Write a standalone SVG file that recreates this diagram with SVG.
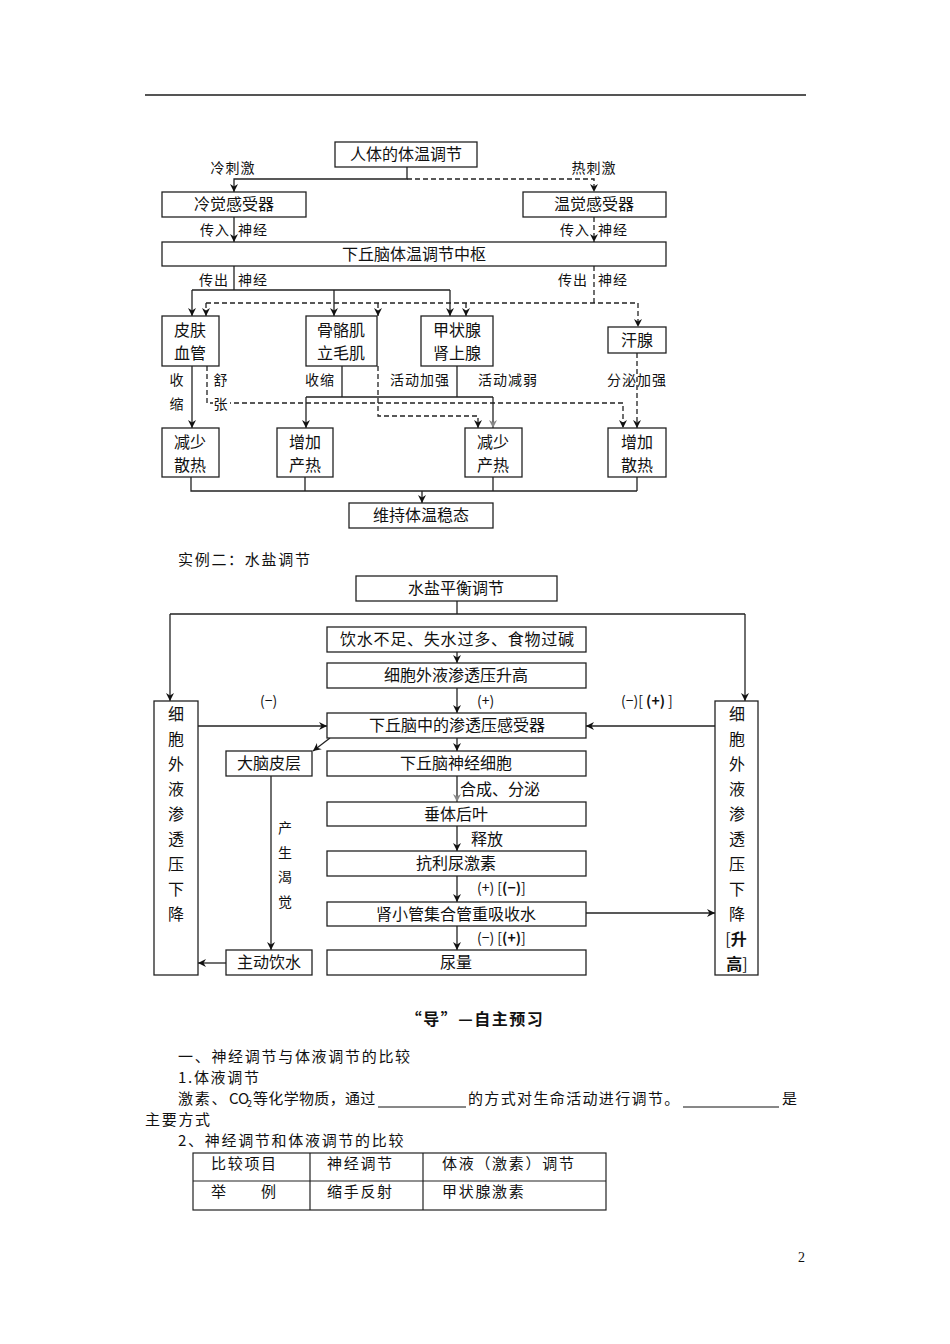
<svg xmlns="http://www.w3.org/2000/svg" width="950" height="1344" viewBox="0 0 950 1344">
<style>
text{font-family:"Noto Sans CJK SC","Liberation Sans",sans-serif;fill:#111}
.bt{font-size:16px;text-anchor:middle}
.lb{font-size:14px;letter-spacing:1px}
.lc{text-anchor:middle}
.le{text-anchor:end}
.box{fill:#fff;stroke:#222;stroke-width:1.3}
.s{fill:none;stroke:#222;stroke-width:1.3}
.d{fill:none;stroke:#222;stroke-width:1.3;stroke-dasharray:5,3}
.a{marker-end:url(#ah)}
.ag{marker-end:url(#ahg)}
.body{font-size:15px;letter-spacing:1.7px}
.b{font-weight:bold}
</style>
<defs>
<marker id="ah" markerWidth="9" markerHeight="9" refX="8" refY="4.5" orient="auto" markerUnits="userSpaceOnUse">
<path d="M0,0.5 L8,4.5 L0,8.5 L2.5,4.5 z" fill="#111"/>
</marker>
<marker id="ahg" markerWidth="9" markerHeight="9" refX="8" refY="4.5" orient="auto" markerUnits="userSpaceOnUse">
<path d="M0,0.5 L8,4.5 L0,8.5 L2.5,4.5 z" fill="#888"/>
</marker>
</defs>
<rect width="950" height="1344" fill="#fff"/>
<line x1="145" y1="95" x2="806" y2="95" stroke="#555" stroke-width="2"/>

<!-- ===== Diagram 1 connectors ===== -->
<g id="connectors1">
<path class="s a" d="M407,167 V179 H234 V192"/>
<path class="d a" d="M407,179 H594 V192"/>
<path class="s a" d="M234,217 V242"/>
<path class="d a" d="M594,217 V242"/>
<path class="s" d="M234,266 V290 M192,290 H450"/>
<path class="s a" d="M192,290 V316"/>
<path class="s a" d="M334,290 V316"/>
<path class="s a" d="M450,290 V316"/>
<path class="d" d="M594,266 V303 M206,303 H638"/>
<path class="d a" d="M206,303 V316"/>
<path class="d a" d="M378,303 V316"/>
<path class="d a" d="M466,303 V316"/>
<path class="d a" d="M638,303 V327"/>
<path class="s a" d="M192,366 V428"/>
<path class="d a" d="M207,366 V403 H623 V428"/>
<path class="s" d="M342,366 V397 M457,366 V397 M306,397 H493"/>
<path class="s a" d="M306,397 V428"/>
<path class="s ag" d="M493,397 V428" stroke="#777"/>
<path class="d a" d="M378,366 V416 H478 V428"/>
<path class="d a" d="M637,353 V428"/>
<path class="s" d="M191,477 V491 H637 M305,477 V491 M493,477 V491 M637,477 V491"/>
<path class="s a" d="M422,491 V503"/>
</g>

<g id="labels1" class="lb">
<text class="lc" x="233" y="173">冷刺激</text>
<text class="lc" x="594" y="173">热刺激</text>
<text class="le" x="230" y="235">传入</text>
<text x="238" y="235">神经</text>
<text class="le" x="590" y="235">传入</text>
<text x="598" y="235">神经</text>
<text class="le" x="229" y="285">传出</text>
<text x="238" y="285">神经</text>
<text class="le" x="588" y="285">传出</text>
<text x="598" y="285">神经</text>
<text class="lc" x="177" y="385">收</text>
<text class="lc" x="177" y="409">缩</text>
<text class="lc" x="221" y="385">舒</text>
<rect x="213" y="396" width="17" height="15" fill="#fff"/>
<text class="lc" x="221" y="409">张</text>
<text class="lc" x="320" y="385">收缩</text>
<text class="lc" x="420" y="385">活动加强</text>
<text class="lc" x="508" y="385">活动减弱</text>
<text class="lc" x="637" y="385">分泌加强</text>
</g>

<g id="n-tiwen"><rect class="box" x="335" y="142" width="142" height="25"/><text class="bt" x="406" y="160">人体的体温调节</text></g>
<g id="n-lengjue"><rect class="box" x="162" y="192" width="144" height="25"/><text class="bt" x="234" y="210">冷觉感受器</text></g>
<g id="n-wenjue"><rect class="box" x="523" y="192" width="143" height="25"/><text class="bt" x="594" y="210">温觉感受器</text></g>
<g id="n-zhongshu"><rect class="box" x="162" y="242" width="504" height="24"/><text class="bt" x="414" y="260">下丘脑体温调节中枢</text></g>
<g id="n-pifu"><rect class="box" x="162" y="316" width="57" height="50"/><text class="bt" x="190" y="336">皮肤</text><text class="bt" x="190" y="359">血管</text></g>
<g id="n-guge"><rect class="box" x="306" y="316" width="71" height="50"/><text class="bt" x="341" y="336">骨骼肌</text><text class="bt" x="341" y="359">立毛肌</text></g>
<g id="n-jiazhuang"><rect class="box" x="421" y="316" width="72" height="50"/><text class="bt" x="457" y="336">甲状腺</text><text class="bt" x="457" y="359">肾上腺</text></g>
<g id="n-hanxian"><rect class="box" x="608" y="327" width="58" height="26"/><text class="bt" x="637" y="346">汗腺</text></g>
<g id="n-jssr"><rect class="box" x="162" y="428" width="57" height="49"/><text class="bt" x="190" y="448">减少</text><text class="bt" x="190" y="471">散热</text></g>
<g id="n-zjcr"><rect class="box" x="277" y="428" width="56" height="49"/><text class="bt" x="305" y="448">增加</text><text class="bt" x="305" y="471">产热</text></g>
<g id="n-jscr"><rect class="box" x="465" y="428" width="57" height="49"/><text class="bt" x="493" y="448">减少</text><text class="bt" x="493" y="471">产热</text></g>
<g id="n-zjsr"><rect class="box" x="608" y="428" width="58" height="49"/><text class="bt" x="637" y="448">增加</text><text class="bt" x="637" y="471">散热</text></g>
<g id="n-weichi"><rect class="box" x="349" y="503" width="144" height="25"/><text class="bt" x="421" y="521">维持体温稳态</text></g>

<text class="body" x="178" y="565">实例二：水盐调节</text>

<!-- ===== Diagram 2 connectors ===== -->
<g id="connectors2">
<path class="s" d="M457,601 V614 M170,614 H745"/>
<path class="s a" d="M170,614 V701"/>
<path class="s a" d="M745,614 V701"/>
<path class="s a" d="M457,652 V663"/>
<path class="s a" d="M457,688 V713"/>
<path class="s a" d="M198,726 H327"/>
<path class="s a" d="M715,726 H586"/>
<path class="s a" d="M330,738 L313,751"/>
<path class="s a" d="M457,738 V751"/>
<path class="s ag" d="M457,776 V802" stroke="#777"/>
<path class="s a" d="M457,826 V851"/>
<path class="s a" d="M457,876 V902"/>
<path class="s a" d="M457,926 V950"/>
<path class="s a" d="M586,913 H715"/>
<path class="s a" d="M271,776 V950"/>
<path class="s a" d="M226,963 H198"/>
</g>

<g id="labels2" style="font-size:14px">
<text x="260" y="706">(−)</text>
<text x="477" y="706">(+)</text>
<text x="621" y="706">(−)[ <tspan class="b">(+)</tspan> ]</text>
<text x="460" y="795" style="font-size:16px">合成、分泌</text>
<text x="471" y="845" style="font-size:16px">释放</text>
<text x="477" y="893">(+)  [<tspan class="b">(−)</tspan>]</text>
<text x="477" y="943">(−)  [<tspan class="b">(+)</tspan>]</text>
<text x="285" y="833" class="lc">产</text>
<text x="285" y="858" class="lc">生</text>
<text x="285" y="882" class="lc">渴</text>
<text x="285" y="907" class="lc">觉</text>
</g>

<g id="n-shuiyan"><rect class="box" x="356" y="576" width="201" height="25"/><text class="bt" x="456" y="594">水盐平衡调节</text></g>
<g id="n-yinshui"><rect class="box" x="327" y="627" width="259" height="25"/><text class="bt" x="457" y="645" textLength="234">饮水不足、失水过多、食物过碱</text></g>
<g id="n-shenggao"><rect class="box" x="327" y="663" width="259" height="25"/><text class="bt" x="456" y="681">细胞外液渗透压升高</text></g>
<g id="n-ganshouqi"><rect class="box" x="327" y="713" width="259" height="25"/><text class="bt" x="457" y="731">下丘脑中的渗透压感受器</text></g>
<g id="n-danao"><rect class="box" x="226" y="751" width="86" height="25"/><text class="bt" x="269" y="769">大脑皮层</text></g>
<g id="n-shenjing"><rect class="box" x="327" y="751" width="259" height="25"/><text class="bt" x="456" y="769">下丘脑神经细胞</text></g>
<g id="n-chuiti"><rect class="box" x="327" y="802" width="259" height="24"/><text class="bt" x="456" y="820">垂体后叶</text></g>
<g id="n-kangli"><rect class="box" x="327" y="851" width="259" height="25"/><text class="bt" x="456" y="869">抗利尿激素</text></g>
<g id="n-chongxishou"><rect class="box" x="327" y="902" width="259" height="24"/><text class="bt" x="456" y="920">肾小管集合管重吸收水</text></g>
<g id="n-niaoliang"><rect class="box" x="327" y="950" width="259" height="25"/><text class="bt" x="456" y="968">尿量</text></g>
<g id="n-yinshui2"><rect class="box" x="226" y="950" width="86" height="25"/><text class="bt" x="269" y="968">主动饮水</text></g>
<g id="n-left"><rect class="box" x="154" y="701" width="44" height="274"/>
<text class="bt" x="176" y="720">细</text><text class="bt" x="176" y="745">胞</text><text class="bt" x="176" y="770">外</text><text class="bt" x="176" y="795">液</text><text class="bt" x="176" y="820">渗</text><text class="bt" x="176" y="845">透</text><text class="bt" x="176" y="870">压</text><text class="bt" x="176" y="895">下</text><text class="bt" x="176" y="920">降</text></g>
<g id="n-right"><rect class="box" x="715" y="701" width="43" height="274"/>
<text class="bt" x="737" y="720">细</text><text class="bt" x="737" y="745">胞</text><text class="bt" x="737" y="770">外</text><text class="bt" x="737" y="795">液</text><text class="bt" x="737" y="820">渗</text><text class="bt" x="737" y="845">透</text><text class="bt" x="737" y="870">压</text><text class="bt" x="737" y="895">下</text><text class="bt" x="737" y="920">降</text>
<text class="bt" x="736" y="945">[<tspan class="b">升</tspan></text><text class="bt" x="737" y="970"><tspan class="b">高</tspan>]</text></g>

<!-- ===== Text section ===== -->
<g id="text-section" class="body">
<text x="475" y="1025" class="b" text-anchor="middle" style="font-size:16px;letter-spacing:1.5px">“导”—自主预习</text>
<text x="178" y="1062">一、神经调节与体液调节的比较</text>
<text x="178" y="1083">1.体液调节</text>
<text x="178" y="1104">激素、</text>
<text x="229" y="1104" style="letter-spacing:0">CO</text>
<text x="247" y="1107" style="font-size:9px;letter-spacing:0">2</text>
<text x="253" y="1104" textLength="124">等化学物质，通过</text>
<line x1="378" y1="1107" x2="466" y2="1107" stroke="#111" stroke-width="1"/>
<text x="468" y="1104" textLength="213">的方式对生命活动进行调节。</text>
<line x1="683" y1="1107" x2="779" y2="1107" stroke="#111" stroke-width="1"/>
<text x="782" y="1104">是</text>
<text x="145" y="1125">主要方式</text>
<text x="178" y="1146">2、神经调节和体液调节的比较</text>
</g>
<g id="table">
<rect x="193" y="1153" width="413" height="57" fill="none" stroke="#222" stroke-width="1.2"/>
<line x1="193" y1="1181" x2="606" y2="1181" stroke="#222" stroke-width="1.2"/>
<line x1="310" y1="1153" x2="310" y2="1210" stroke="#222" stroke-width="1.2"/>
<line x1="423" y1="1153" x2="423" y2="1210" stroke="#222" stroke-width="1.2"/>
<text class="body" x="211" y="1169">比较项目</text>
<text class="body" x="327" y="1169">神经调节</text>
<text class="body" x="442" y="1169">体液（激素）调节</text>
<text class="body" x="211" y="1197">举</text>
<text class="body" x="261" y="1197">例</text>
<text class="body" x="327" y="1197">缩手反射</text>
<text class="body" x="442" y="1197">甲状腺激素</text>
</g>
<text x="798" y="1262" style="font-family:'Liberation Serif',serif;font-size:14px">2</text>
</svg>
